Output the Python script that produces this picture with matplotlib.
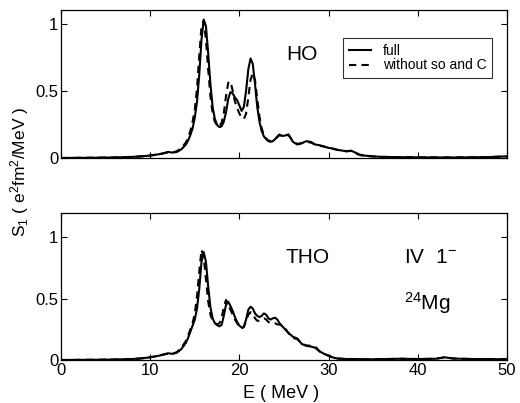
import matplotlib
matplotlib.use("Agg")
import matplotlib.pyplot as plt

plt.rcParams['font.family'] = ['Liberation Sans', 'DejaVu Sans']
plt.rcParams['mathtext.fontset'] = 'custom'
plt.rcParams['mathtext.rm'] = 'Liberation Sans'
plt.rcParams['mathtext.it'] = 'Liberation Sans:italic'
plt.rcParams['mathtext.bf'] = 'Liberation Sans:bold'

# Energy grid (MeV)
energy = [0, 2, 4, 6, 8, 9, 10, 11, 11.5, 12, 12.5, 13, 13.5,
          14, 14.25, 14.5, 14.75, 15, 15.25, 15.5, 15.75, 16, 16.25, 16.5, 16.75,
          17, 17.25, 17.5, 17.75, 18, 18.25, 18.5, 18.75, 19, 19.25, 19.5, 19.75,
          20, 20.25, 20.5, 20.75, 21, 21.25, 21.5, 21.75, 22, 22.25, 22.5, 22.75,
          23, 23.25, 23.5, 23.75, 24, 24.25, 24.5, 24.75, 25,
          25.5, 26, 26.5, 27, 27.5, 28, 28.5, 29, 29.5, 30, 30.5, 31, 31.5, 32, 32.5, 33, 33.5, 34,
          35, 36, 38, 40, 42, 43, 44, 46, 48, 50]

# HO panel
ho_full = [0.0, 0.001, 0.002, 0.004, 0.008, 0.012, 0.018, 0.028, 0.035, 0.045, 0.040, 0.045, 0.065,
           0.10, 0.13, 0.17, 0.22, 0.30, 0.42, 0.62, 0.88, 1.03, 0.98, 0.78, 0.55,
           0.38, 0.29, 0.245, 0.23, 0.235, 0.27, 0.34, 0.44, 0.49, 0.48, 0.45, 0.43,
           0.39, 0.35, 0.38, 0.50, 0.66, 0.74, 0.70, 0.55, 0.38, 0.27, 0.20, 0.16,
           0.14, 0.125, 0.12, 0.125, 0.14, 0.16, 0.175, 0.165, 0.165,
           0.175, 0.12, 0.10, 0.11, 0.125, 0.12, 0.10, 0.095, 0.085, 0.075, 0.07, 0.06, 0.055, 0.05, 0.055, 0.04, 0.025, 0.018,
           0.012, 0.008, 0.006, 0.005, 0.004, 0.004, 0.004, 0.005, 0.007, 0.012]
ho_noso = [0.0, 0.001, 0.002, 0.004, 0.008, 0.012, 0.018, 0.028, 0.035, 0.042, 0.042, 0.05, 0.075,
           0.115, 0.15, 0.20, 0.27, 0.36, 0.52, 0.76, 0.98, 1.02, 0.88, 0.66, 0.46,
           0.33, 0.27, 0.24, 0.235, 0.26, 0.33, 0.46, 0.56, 0.57, 0.50, 0.42, 0.37,
           0.33, 0.30, 0.29, 0.33, 0.45, 0.58, 0.63, 0.58, 0.44, 0.31, 0.22, 0.17,
           0.145, 0.13, 0.125, 0.13, 0.14, 0.155, 0.17, 0.165, 0.165,
           0.17, 0.125, 0.105, 0.11, 0.12, 0.115, 0.10, 0.09, 0.085, 0.075, 0.068, 0.06, 0.055, 0.05, 0.052, 0.035, 0.022, 0.016,
           0.011, 0.008, 0.006, 0.005, 0.004, 0.004, 0.004, 0.005, 0.007, 0.011]

# THO panel
tho_full = [0.0, 0.001, 0.002, 0.004, 0.008, 0.013, 0.022, 0.035, 0.045, 0.055, 0.05, 0.06, 0.09,
            0.14, 0.18, 0.23, 0.28, 0.33, 0.42, 0.58, 0.80, 0.88, 0.80, 0.60, 0.43,
            0.34, 0.30, 0.285, 0.275, 0.285, 0.36, 0.45, 0.475, 0.44, 0.40, 0.35, 0.31,
            0.28, 0.265, 0.27, 0.33, 0.41, 0.435, 0.42, 0.38, 0.36, 0.35, 0.36, 0.38,
            0.37, 0.34, 0.33, 0.34, 0.345, 0.33, 0.30, 0.28, 0.26,
            0.22, 0.19, 0.175, 0.13, 0.115, 0.11, 0.10, 0.07, 0.05, 0.035, 0.02, 0.012, 0.01, 0.008, 0.008, 0.007, 0.007, 0.006,
            0.006, 0.007, 0.01, 0.008, 0.01, 0.022, 0.012, 0.008, 0.007, 0.006]
tho_noso = [0.0, 0.001, 0.002, 0.004, 0.008, 0.013, 0.022, 0.035, 0.045, 0.052, 0.05, 0.065, 0.10,
            0.155, 0.20, 0.25, 0.30, 0.38, 0.52, 0.72, 0.90, 0.84, 0.66, 0.48, 0.37,
            0.32, 0.30, 0.29, 0.30, 0.34, 0.43, 0.49, 0.45, 0.41, 0.37, 0.33, 0.30,
            0.27, 0.255, 0.27, 0.32, 0.37, 0.39, 0.38, 0.34, 0.32, 0.32, 0.33, 0.34,
            0.33, 0.31, 0.30, 0.30, 0.30, 0.29, 0.29, 0.28, 0.27,
            0.22, 0.18, 0.17, 0.13, 0.12, 0.115, 0.11, 0.07, 0.05, 0.035, 0.02, 0.012, 0.01, 0.008, 0.008, 0.007, 0.007, 0.006,
            0.006, 0.007, 0.01, 0.008, 0.01, 0.022, 0.012, 0.008, 0.007, 0.006]

xticks = [0, 10, 20, 30, 40, 50]
yticks = [0, 0.5, 1]
ytick_labels = ['0', '0.5', '1']

fig = plt.figure(figsize=(5.2, 4.03), dpi=100)
ax1 = fig.add_axes([0.1173, 0.608, 0.8577, 0.367])
ax2 = fig.add_axes([0.1173, 0.1067, 0.8577, 0.365])

lw = 1.5
for ax, full, noso, ymax in [(ax1, ho_full, ho_noso, 1.1), (ax2, tho_full, tho_noso, 1.2)]:
    ax.plot(energy, full, color='black', lw=lw, ls='-', label='full')
    ax.plot(energy, noso, color='black', lw=lw, ls=(0, (3.5, 2.5)), label='without so and C')
    ax.set_xlim(0, 50)
    ax.set_ylim(0, ymax)
    ax.set_xticks(xticks)
    ax.set_yticks(yticks)
    ax.set_yticklabels(ytick_labels)
    ax.tick_params(direction='in', top=True, right=True, length=4, width=0.8,
                   labelsize=12, pad=2)
    for s in ax.spines.values():
        s.set_linewidth(0.9)

ax1.set_xticklabels([])
ax2.set_xticklabels([str(t) for t in xticks])

leg = ax1.legend(loc='upper right', bbox_to_anchor=(0.966, 0.81), fontsize=10,
                 frameon=True, fancybox=False, handlelength=1.6, borderpad=0.4,
                 labelspacing=0.05, handletextpad=0.85, borderaxespad=0)
leg.get_frame().set_edgecolor('black')
leg.get_frame().set_linewidth(0.8)

ax1.text(25.2, 0.73, 'HO', fontsize=15)
ax2.text(25.2, 0.79, 'THO', fontsize=15)
ax2.text(38.4, 0.79, 'IV  1$^{-}$', fontsize=15)
ax2.text(38.4, 0.41, '$^{24}$Mg', fontsize=15)

fig.text(20 / 520, 1 - 172 / 403, 'S$_1$ ( e$^2$fm$^2$/MeV )', rotation=90,
         ha='center', va='center', fontsize=12.5)
fig.text(281 / 520, 1 - 393 / 403, 'E ( MeV )', ha='center', va='center', fontsize=13)

fig.savefig('out.png', dpi=100)
